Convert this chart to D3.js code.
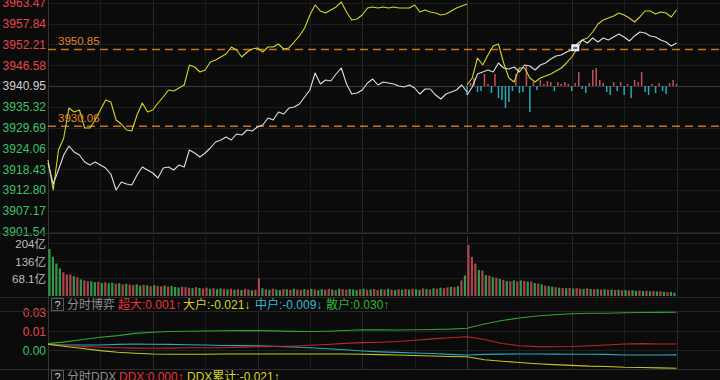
<!DOCTYPE html>
<html><head><meta charset="utf-8">
<script src="https://cdn.jsdelivr.net/npm/d3@7"></script>
<style>
html,body{margin:0;padding:0;background:#0b0b0b;overflow:hidden}
svg{display:block}
text{font-family:"Liberation Sans",Arial,"Noto Sans CJK SC",sans-serif}
</style></head><body>
<svg id="c" width="720" height="380"></svg>
<script>
// ---------- data ----------
const priceTicks = [3963.47,3957.84,3952.21,3946.58,3940.95,3935.32,3929.69,3924.06,3918.43,3912.80,3907.17,3901.54];
const prevClose = 3940.95;
const refLevels = [3950.85, 3930.06];

// day 1: one point every 3 minutes (0..240), day 2: every 3 minutes (0..120)
const day1Times = d3.range(0, 241, 3);
const day2Times = d3.range(0, 121, 3);

const day1White = [3920.11,3914.42,3918.21,3922.27,3924.71,3923.08,3922.27,3920.38,3919.56,3920.38,
 3919.56,3918.75,3917.13,3912.80,3914.96,3914.42,3914.15,3916.86,3919.02,3918.21,
 3917.40,3916.05,3918.75,3919.02,3918.21,3919.56,3919.02,3923.63,3922.81,3921.73,
 3922.81,3924.17,3925.79,3926.33,3927.14,3926.33,3927.96,3927.69,3929.04,3928.77,
 3929.85,3930.39,3932.29,3931.75,3933.91,3933.37,3934.99,3935.27,3936.08,3937.97,
 3939.87,3944.47,3941.49,3942.57,3942.30,3944.20,3945.82,3941.49,3938.78,3939.06,
 3939.87,3941.76,3942.84,3941.22,3942.03,3941.76,3941.49,3940.95,3940.68,3941.22,
 3940.41,3938.78,3940.14,3940.14,3938.51,3937.43,3938.78,3939.33,3939.87,3941.22,
 3939.33];
const day1Yellow = [3920.92,3912.80,3923.63,3926.87,3934.99,3933.91,3934.45,3929.58,3929.58,3931.75,
 3934.45,3937.16,3936.62,3931.75,3930.66,3929.04,3928.77,3933.10,3936.35,3933.91,
 3934.45,3936.35,3937.97,3939.87,3939.60,3940.41,3941.22,3946.63,3946.09,3944.74,
 3945.28,3947.45,3947.99,3948.80,3949.61,3951.51,3950.70,3948.80,3950.15,3950.97,
 3951.24,3950.15,3951.51,3951.51,3952.32,3950.97,3951.24,3952.86,3954.49,3956.65,
 3960.17,3962.88,3961.25,3960.71,3961.52,3962.34,3963.69,3960.98,3958.82,3959.09,
 3960.17,3962.06,3962.34,3962.06,3962.34,3962.06,3962.34,3962.06,3962.06,3962.06,
 3962.88,3960.98,3961.52,3960.98,3960.71,3960.17,3960.44,3961.25,3962.06,3962.61,
 3963.15];
const day2White = [3938.51,3940.68,3944.20,3944.74,3945.28,3944.74,3947.18,3945.82,3945.55,3946.09,
 3944.74,3946.63,3946.36,3945.28,3946.63,3947.18,3948.26,3949.07,3949.34,3950.15,
 3950.70,3952.32,3953.40,3952.59,3953.94,3952.86,3953.94,3953.40,3954.21,3955.03,
 3954.21,3953.13,3954.49,3955.57,3955.30,3954.49,3954.21,3953.40,3952.86,3951.78,
 3952.59];
const day2Yellow = [3941.22,3943.12,3948.53,3946.63,3949.34,3951.78,3952.32,3947.18,3943.12,3942.03,
 3945.82,3945.82,3943.12,3942.03,3943.12,3943.66,3944.20,3945.01,3945.82,3947.18,
 3948.80,3950.97,3953.40,3953.94,3955.57,3957.73,3958.82,3959.36,3959.90,3960.71,
 3960.17,3959.36,3958.27,3959.63,3961.25,3961.25,3960.44,3960.98,3960.71,3959.63,
 3961.52];
const marker = {t: 62, v: 3951.3};

// day-2 net flow bars on main chart, every 2 minutes
const flowTimes = d3.range(0, 121, 2);
const flowBars = [-9,3,8,-6,-5,12,2,-7,12,-12,-14,-22,-16,-5,12,-7,-6,21,-26,4,
 -4,6,2,5,4,-5,4,2,4,2,-5,3,14,-3,-7,3,16,18,6,3,-6,-9,4,-5,4,-9,2,-12,6,4,
 14,-6,-9,2,-7,3,-5,-8,3,6,2];

// volume (亿), every 2 minutes
const volTicks = [204, 136, 68.1];
const volTickLabels = ["204亿", "136亿", "68.1亿"];
const vol1 = [181,151,125,106,91,83,83,76,72,64,
 60,57,57,53,55,50,53,49,51,47,
 49,45,47,44,42,45,40,43,41,38,
 42,39,37,40,36,38,35,33,36,34,
 32,30,34,31,29,32,28,30,26,29,
 27,25,28,24,26,23,27,25,22,24,
 68,30,26,24,28,25,23,27,26,24,
 28,25,23,26,24,27,25,22,26,24,
 27,25,23,28,26,24,27,25,23,26,
 28,24,25,27,23,26,24,28,25,23,
 26,24,27,25,28,26,24,29,27,25,
 30,28,32,30,33,35,34,38,60,79];
const dir1 = "ggggrrrgrgrrggrgrggrgrgrrggrgrgrrgrgggrrrgrgrrgrggrgrgrgrrgrrgrgrggrgrgrrgrgrggrrgrgrrgggrgrgrrgrgrgrgrgrggrgrgrgrrgrgrg".split("");
const vol2 = [196,150,125,100,98,80,78,72,70,66,
 62,58,57,60,56,60,58,55,56,50,
 48,45,40,38,36,34,32,31,30,31,
 29,30,28,27,29,27,26,27,25,26,
 24,25,23,24,22,23,21,22,20,21,
 19,20,18,19,17,18,16,15,16,13];
const dir2 = "rrrgrgrgrgrgrgrgrgrgrgrggrgrgrgrrgrgrgrgrgrgrgrggrgrgrgrgrgg".split("");

// 分时博弈 lines, every 10 minutes
const gameTimes1 = d3.range(0, 241, 10);
const gameTimes2 = d3.range(0, 121, 10);
const superD1 = [0.0006,-0.0005,-0.0014,-0.0021,-0.0025,-0.0029,-0.0030,-0.0029,-0.0026,-0.0025,-0.0025,-0.0021,-0.0015,-0.0014,-0.0009,-0.0003,0.0004,0.0014,0.0021,0.0025,0.0032,0.0043,0.0055,0.0065,0.0075];
const superD2 = [0.0075,0.0050,0.0013,-0.0007,-0.0015,-0.0016,-0.0014,-0.0007,0.0000,0.0009,0.0012,0.0009,0.0008];
const bigD1 = [0.0006,-0.0014,-0.0033,-0.0052,-0.0066,-0.0075,-0.0082,-0.0085,-0.0085,-0.0085,-0.0083,-0.0082,-0.0082,-0.0082,-0.0082,-0.0082,-0.0082,-0.0083,-0.0085,-0.0088,-0.0092,-0.0096,-0.0101,-0.0105,-0.0107];
const bigD2 = [-0.0107,-0.0135,-0.0148,-0.0160,-0.0171,-0.0179,-0.0186,-0.0193,-0.0196,-0.0203,-0.0206,-0.0209,-0.0212];
const midD1 = [0.0004,0,0,0,0.0005,0.0009,0.0007,0.0005,0.0002,-0.0001,-0.0005,-0.0006,-0.0007,-0.0013,-0.0018,-0.0025,-0.0034,-0.0044,-0.0055,-0.0063,-0.0068,-0.0073,-0.0078,-0.0086,-0.0091];
const midD2 = [-0.0091,-0.0086,-0.0084,-0.0082,-0.0083,-0.0084,-0.0085,-0.0085,-0.0086,-0.0091,-0.0091,-0.0091,-0.0090];
const retailD1 = [0.0012,0.0028,0.0050,0.0070,0.0085,0.0105,0.0116,0.0122,0.0125,0.0127,0.0129,0.0130,0.0130,0.0128,0.0124,0.0122,0.0125,0.0131,0.0138,0.0137,0.0136,0.0139,0.0141,0.0144,0.0152];
const retailD2 = [0.0152,0.0191,0.0223,0.0245,0.0264,0.0275,0.0284,0.0288,0.0288,0.0293,0.0295,0.0297,0.0298];
const gameTicks = [0.030, 0.0127, -0.0046];

const legend1 = [
  {text: "超大:0.001↑", color: "#e8353b", x: 118},
  {text: "大户:-0.021↓", color: "#d6d62c", x: 183},
  {text: "中户:-0.009↓", color: "#2fbcd0", x: 255},
  {text: "散户:0.030↑", color: "#2fb533", x: 326}
];
const legend2 = [
  {text: "DDX:0.000↑", color: "#e8353b", x: 119},
  {text: "DDX累计:-0.021↑", color: "#d6d62c", x: 187}
];

// ---------- drawing ----------
const svg = d3.select("#c");
const W = 720, L = 48;
const x = d3.scaleLinear().domain([0, 480]).range([L, L + 480 * 419 / 240]);
const yP = d3.scaleLinear().domain([3901.54, 3963.47]).range([231.6, 2.8]);
const yV = d3.scaleLinear().domain([0, 204]).range([296, 243]);
const yG = d3.scaleLinear().domain([-0.0046, 0.030]).range([350, 312]);
const yF = d3.scaleLinear().domain([-30, 30]).range([30, -30]);

svg.append("rect").attr("width", W).attr("height", 380).attr("fill", "#0b0b0b");

const panels = [[0, 233], [236, 297], [311, 369]];
// vertical grid
const vt = d3.range(0, 481, 30);
panels.forEach(([a, b]) => {
  svg.append("g").selectAll("line").data(vt).join("line")
    .attr("x1", d => Math.round(x(d)) + 0.5).attr("x2", d => Math.round(x(d)) + 0.5)
    .attr("y1", a).attr("y2", b)
    .attr("stroke", d => d % 240 === 0 ? "#3a3a3a" : (d % 60 === 0 ? "#282828" : "#1c1c1c"))
    .attr("stroke-width", 1);
});
// price horizontal grid
svg.append("g").selectAll("line").data(priceTicks).join("line")
  .attr("x1", L).attr("x2", W)
  .attr("y1", d => Math.round(yP(d)) + 0.5).attr("y2", d => Math.round(yP(d)) + 0.5)
  .attr("stroke", d => d === prevClose ? "#3a3a3a" : "#1d1d1d");
svg.append("g").selectAll("text").data(priceTicks).join("text")
  .attr("x", 46).attr("y", d => yP(d)).attr("dy", "0.36em")
  .attr("text-anchor", "end").attr("font-size", 12)
  .attr("fill", d => d > prevClose ? "#e5484d" : (d < prevClose ? "#3cc26a" : "#cfcfcf"))
  .text(d => d.toFixed(2));

// volume grid
svg.append("g").selectAll("line").data(volTicks).join("line")
  .attr("x1", L).attr("x2", W)
  .attr("y1", d => Math.round(yV(d)) + 0.5).attr("y2", d => Math.round(yV(d)) + 0.5)
  .attr("stroke", "#1d1d1d");
svg.append("g").selectAll("text").data(volTicks).join("text")
  .attr("x", 46).attr("y", d => yV(d) + 1).attr("dy", "0.36em")
  .attr("text-anchor", "end").attr("font-size", 11.5).attr("fill", "#bdbdbd")
  .text((d, i) => volTickLabels[i]);

// game grid
svg.append("g").selectAll("line").data(gameTicks.slice(1)).join("line")
  .attr("x1", L).attr("x2", W)
  .attr("y1", d => Math.round(yG(d)) + 0.5).attr("y2", d => Math.round(yG(d)) + 0.5)
  .attr("stroke", "#222");
svg.append("g").selectAll("text").data(gameTicks).join("text")
  .attr("x", 46).attr("y", d => yG(d) + 1).attr("dy", "0.36em")
  .attr("text-anchor", "end").attr("font-size", 12)
  .attr("fill", d => d > 0 ? "#e5484d" : "#3cc26a")
  .text(d => d3.format(".2f")(d).replace("−", "-"));

// panel borders
[233.5, 297.5, 311.5, 369.5].forEach(yy => {
  svg.append("line").attr("x1", 0).attr("x2", W).attr("y1", yy).attr("y2", yy)
    .attr("stroke", yy === 233.5 || yy === 369.5 ? "#2e2e2e" : "#262626");
});
svg.append("line").attr("x1", L + 0.5).attr("x2", L + 0.5).attr("y1", 0).attr("y2", 380).attr("stroke", "#333");

// net flow bars day 2
svg.append("g").selectAll("rect").data(flowBars).join("rect")
  .attr("x", (d, i) => x(240 + flowTimes[i]) - 0.7)
  .attr("width", 1.5)
  .attr("y", d => yP(prevClose) + Math.min(0, yF(d)))
  .attr("height", d => Math.abs(yF(d)))
  .attr("fill", d => d >= 0 ? "#c2505c" : "#26a9b4");

// reference dashed levels
refLevels.forEach(v => {
  svg.append("line").attr("x1", L).attr("x2", W)
    .attr("y1", yP(v)).attr("y2", yP(v))
    .attr("stroke", "#c8701f").attr("stroke-width", 1.5).attr("stroke-dasharray", "8,5");
});

// price lines
const linePts = (times, vals, off) => vals.map((v, i) => [x(off + times[i]), yP(v)]);
const lg = d3.line().curve(d3.curveLinear);
[[day1Times, day1Yellow, 0, "#d4d42a"], [day2Times, day2Yellow, 240, "#d4d42a"],
 [day1Times, day1White, 0, "#dedede"], [day2Times, day2White, 240, "#dedede"]].forEach(([t, v, o, c]) => {
  svg.append("path").attr("d", lg(linePts(t, v, o))).attr("fill", "none")
    .attr("stroke", c).attr("stroke-width", 1.1).attr("stroke-linejoin", "round");
});

// reference level labels on top
refLevels.forEach(v => {
  svg.append("text").attr("x", 58).attr("y", yP(v) - 4)
    .attr("font-size", 11.5).attr("fill", "#e2862c").text(v.toFixed(2));
});

// marker
const mx = x(240 + marker.t), my = yP(marker.v);
svg.append("rect").attr("x", mx - 4).attr("y", my - 3.5).attr("width", 8).attr("height", 7).attr("fill", "#f2f2f2");
svg.append("rect").attr("x", mx - 2).attr("y", my - 1).attr("width", 4).attr("height", 2.5).attr("fill", "#3a6fd8");

// volume bars
const volG = svg.append("g");
vol1.forEach((v, i) => {
  volG.append("rect").attr("x", x(i * 2) + 0.3).attr("width", 2.2)
    .attr("y", yV(v)).attr("height", yV(0) - yV(v))
    .attr("fill", dir1[i] === "r" ? "#a9454e" : "#35974a");
});
vol2.forEach((v, i) => {
  volG.append("rect").attr("x", x(240 + i * 2) + 0.3).attr("width", 2.2)
    .attr("y", yV(v)).attr("height", yV(0) - yV(v))
    .attr("fill", dir2[i] === "r" ? "#a9454e" : "#35974a");
});

// game lines
const gl = d3.line();
const gameSeries = [
  [retailD1, retailD2, "#2fa532"],
  [midD1, midD2, "#2aaab8"],
  [superD1, superD2, "#b8282e"],
  [bigD1, bigD2, "#c4c42a"]
];
gameSeries.forEach(([a, b, c]) => {
  const pts = a.map((v, i) => [x(gameTimes1[i]), yG(v)])
    .concat(b.map((v, i) => [x(240 + gameTimes2[i]), yG(v)]));
  svg.append("path").attr("d", gl(pts)).attr("fill", "none").attr("stroke", c).attr("stroke-width", 1.1);
});

// legend rows
function legendRow(y0, title, items) {
  svg.append("rect").attr("x", 51.5).attr("y", y0 + 0.5).attr("width", 12).attr("height", 12)
    .attr("fill", "#111").attr("stroke", "#5a5a5a");
  svg.append("text").attr("x", 57.5).attr("y", y0 + 10.5).attr("text-anchor", "middle")
    .attr("font-size", 11).attr("fill", "#d0d0d0").text("?");
  svg.append("text").attr("x", 67).attr("y", y0 + 11).attr("font-size", 12).attr("fill", "#8f8f8f").text(title);
  items.forEach(it => {
    svg.append("text").attr("x", it.x).attr("y", y0 + 11).attr("font-size", 12)
      .attr("fill", it.color).text(it.text);
  });
}
legendRow(298, "分时博弈", legend1);
legendRow(370, "分时DDX", legend2);
</script></body></html>
